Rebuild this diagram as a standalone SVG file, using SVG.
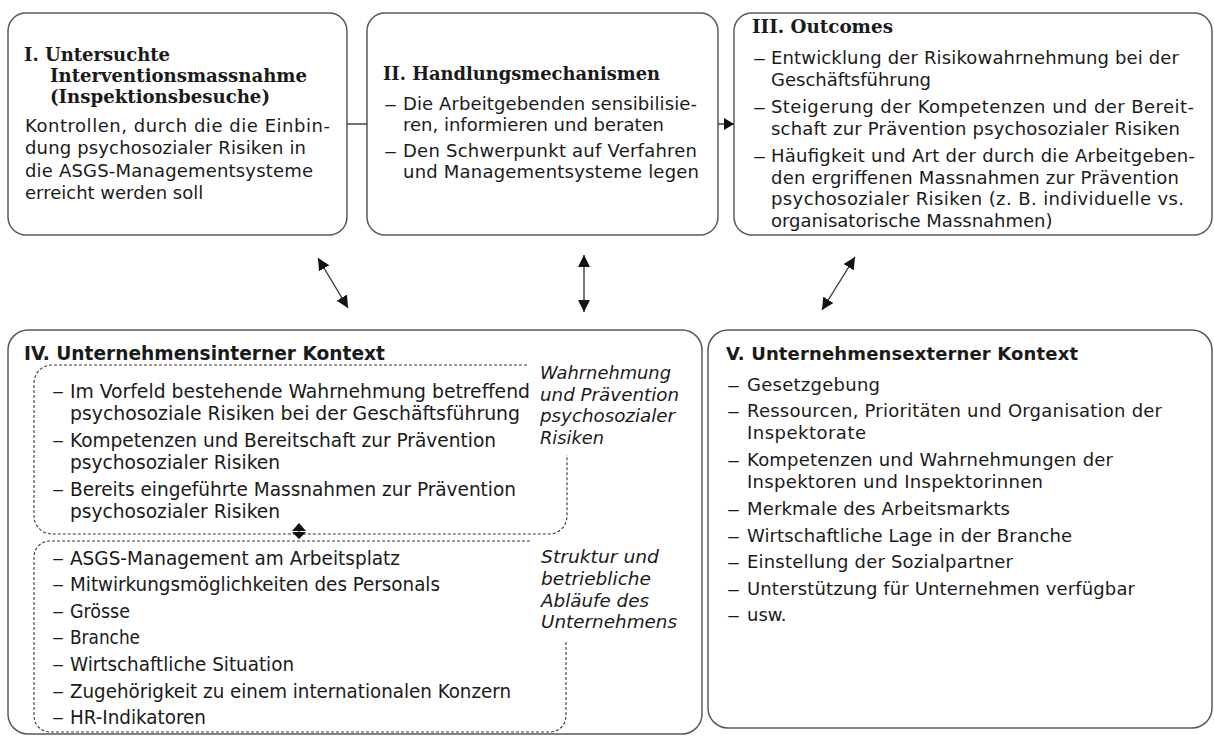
<svg xmlns="http://www.w3.org/2000/svg" width="1214" height="736" viewBox="0 0 1214 736">
<style>
.box{fill:#fff;stroke:#595959;stroke-width:1.5}
.dsh{fill:none;stroke:#3a3a3a;stroke-width:1.1;stroke-dasharray:3 2}
.ln{stroke:#3a3a3a;stroke-width:1.4;fill:none}
text{fill:#1a1a1a}
.t{font-family:"DejaVu Sans",Verdana,sans-serif;font-size:18px}
.h{font-family:"DejaVu Serif","Liberation Serif",serif;font-weight:bold;font-size:18px}
.hs{font-family:"DejaVu Sans",Verdana,sans-serif;font-weight:bold;font-size:18px}
.c{font-family:"DejaVu Sans Condensed","DejaVu Sans",sans-serif;font-stretch:condensed;font-size:20px}
.cb{font-family:"DejaVu Sans Condensed","DejaVu Sans",sans-serif;font-stretch:condensed;font-weight:bold;font-size:20px}
.ci{font-family:"DejaVu Sans Condensed","DejaVu Sans",sans-serif;font-stretch:condensed;font-style:italic;font-size:18px}
</style>
<defs>
<marker id="ah" viewBox="0 0 12 12" refX="12" refY="6" markerWidth="12" markerHeight="12" markerUnits="userSpaceOnUse" orient="auto-start-reverse">
<path d="M0,0 L12,6 L0,12 z" fill="#111"/>
</marker>
<marker id="ahs" viewBox="0 0 10 12" refX="10" refY="6" markerWidth="10" markerHeight="12" markerUnits="userSpaceOnUse" orient="auto">
<path d="M0,0 L10,6 L0,12 z" fill="#111"/>
</marker>
</defs>

<g id="node-I">
<rect class="box" x="8" y="13" width="339" height="222" rx="18"/>
<text class="h" x="24" y="61" textLength="146" lengthAdjust="spacingAndGlyphs">I. Untersuchte</text>
<text class="h" x="50" y="82" textLength="257" lengthAdjust="spacingAndGlyphs">Interventionsmassnahme</text>
<text class="h" x="50" y="103" textLength="220" lengthAdjust="spacingAndGlyphs">(Inspektionsbesuche)</text>
<text class="t" x="25" y="132" textLength="305" lengthAdjust="spacing">Kontrollen, durch die die Einbin-</text>
<text class="t" x="25" y="154" textLength="281" lengthAdjust="spacing">dung psychosozialer Risiken in</text>
<text class="t" x="25" y="177" textLength="288" lengthAdjust="spacing">die ASGS-Managementsysteme</text>
<text class="t" x="25" y="199">erreicht werden soll</text>
</g>

<g id="node-II">
<rect class="box" x="367" y="13" width="351" height="222" rx="18"/>
<text class="h" x="383" y="80" textLength="277" lengthAdjust="spacingAndGlyphs">II. Handlungsmechanismen</text>
<text class="t" x="384" y="110" textLength="13" lengthAdjust="spacingAndGlyphs">–</text>
<text class="t" x="403" y="110" textLength="294" lengthAdjust="spacing">Die Arbeitgebenden sensibilisie-</text>
<text class="t" x="403" y="131">ren, informieren und beraten</text>
<text class="t" x="384" y="157" textLength="13" lengthAdjust="spacingAndGlyphs">–</text>
<text class="t" x="403" y="157" textLength="294" lengthAdjust="spacing">Den Schwerpunkt auf Verfahren</text>
<text class="t" x="403" y="178" textLength="296" lengthAdjust="spacing">und Managementsysteme legen</text>
</g>

<g id="node-III">
<rect class="box" x="734" y="13" width="478" height="222" rx="18"/>
<text class="h" x="752" y="33" textLength="141" lengthAdjust="spacingAndGlyphs">III. Outcomes</text>
<text class="t" x="753" y="64" textLength="13" lengthAdjust="spacingAndGlyphs">–</text>
<text class="t" x="771" y="64" textLength="408" lengthAdjust="spacing">Entwicklung der Risikowahrnehmung bei der</text>
<text class="t" x="771" y="86">Geschäftsführung</text>
<text class="t" x="753" y="113" textLength="13" lengthAdjust="spacingAndGlyphs">–</text>
<text class="t" x="771" y="113" textLength="423" lengthAdjust="spacing">Steigerung der Kompetenzen und der Bereit-</text>
<text class="t" x="771" y="135" textLength="409" lengthAdjust="spacing">schaft zur Prävention psychosozialer Risiken</text>
<text class="t" x="753" y="162" textLength="13" lengthAdjust="spacingAndGlyphs">–</text>
<text class="t" x="771" y="162" textLength="424" lengthAdjust="spacing">Häufigkeit und Art der durch die Arbeitgeben-</text>
<text class="t" x="771" y="184" textLength="408" lengthAdjust="spacing">den ergriffenen Massnahmen zur Prävention</text>
<text class="t" x="771" y="205" textLength="413" lengthAdjust="spacing">psychosozialer Risiken (z. B. individuelle vs.</text>
<text class="t" x="771" y="227">organisatorische Massnahmen)</text>
</g>

<g id="node-IV">
<rect class="box" x="8" y="330" width="694" height="404" rx="20"/>
<text class="cb" x="24" y="360" textLength="361" lengthAdjust="spacingAndGlyphs">IV. Unternehmensinterner Kontext</text>
<path class="dsh" d="M527,365 H52 A18,18 0 0 0 34,383 V516 A18,18 0 0 0 52,534 H549 A18,18 0 0 0 567,516 V455"/>
<text class="ci" x="540" y="379" textLength="131" lengthAdjust="spacingAndGlyphs">Wahrnehmung</text>
<text class="ci" x="540" y="401" textLength="139" lengthAdjust="spacingAndGlyphs">und Prävention</text>
<text class="ci" x="540" y="422" textLength="135" lengthAdjust="spacingAndGlyphs">psychosozialer</text>
<text class="ci" x="540" y="444" textLength="64" lengthAdjust="spacingAndGlyphs">Risiken</text>
<text class="c" x="52" y="398" textLength="12" lengthAdjust="spacingAndGlyphs">–</text>
<text class="c" x="70" y="398" textLength="460" lengthAdjust="spacingAndGlyphs">Im Vorfeld bestehende Wahrnehmung betreffend</text>
<text class="c" x="70" y="420" textLength="450" lengthAdjust="spacingAndGlyphs">psychosoziale Risiken bei der Geschäftsführung</text>
<text class="c" x="52" y="447" textLength="12" lengthAdjust="spacingAndGlyphs">–</text>
<text class="c" x="70" y="447" textLength="426" lengthAdjust="spacingAndGlyphs">Kompetenzen und Bereitschaft zur Prävention</text>
<text class="c" x="70" y="469" textLength="210" lengthAdjust="spacingAndGlyphs">psychosozialer Risiken</text>
<text class="c" x="52" y="496" textLength="12" lengthAdjust="spacingAndGlyphs">–</text>
<text class="c" x="70" y="496" textLength="446" lengthAdjust="spacingAndGlyphs">Bereits eingeführte Massnahmen zur Prävention</text>
<text class="c" x="70" y="518" textLength="210" lengthAdjust="spacingAndGlyphs">psychosozialer Risiken</text>
<path class="dsh" d="M530,541 H50 A16,16 0 0 0 34,557 V716 A16,16 0 0 0 50,732 H550 A16,16 0 0 0 566,716 V642"/>
<text class="ci" x="541" y="563" textLength="118" lengthAdjust="spacingAndGlyphs">Struktur und</text>
<text class="ci" x="541" y="585" textLength="110" lengthAdjust="spacingAndGlyphs">betriebliche</text>
<text class="ci" x="541" y="607" textLength="108" lengthAdjust="spacingAndGlyphs">Abläufe des</text>
<text class="ci" x="541" y="628" textLength="136" lengthAdjust="spacingAndGlyphs">Unternehmens</text>
<text class="c" x="52" y="565" textLength="12" lengthAdjust="spacingAndGlyphs">–</text>
<text class="c" x="70" y="565" textLength="330" lengthAdjust="spacingAndGlyphs">ASGS-Management am Arbeitsplatz</text>
<text class="c" x="52" y="591" textLength="12" lengthAdjust="spacingAndGlyphs">–</text>
<text class="c" x="70" y="591" textLength="370" lengthAdjust="spacingAndGlyphs">Mitwirkungsmöglichkeiten des Personals</text>
<text class="c" x="52" y="618" textLength="12" lengthAdjust="spacingAndGlyphs">–</text>
<text class="c" x="70" y="618" textLength="60" lengthAdjust="spacingAndGlyphs">Grösse</text>
<text class="c" x="52" y="644" textLength="12" lengthAdjust="spacingAndGlyphs">–</text>
<text class="c" x="70" y="644" textLength="70" lengthAdjust="spacingAndGlyphs">Branche</text>
<text class="c" x="52" y="671" textLength="12" lengthAdjust="spacingAndGlyphs">–</text>
<text class="c" x="70" y="671" textLength="224" lengthAdjust="spacingAndGlyphs">Wirtschaftliche Situation</text>
<text class="c" x="52" y="698" textLength="12" lengthAdjust="spacingAndGlyphs">–</text>
<text class="c" x="70" y="698" textLength="441" lengthAdjust="spacingAndGlyphs">Zugehörigkeit zu einem internationalen Konzern</text>
<text class="c" x="52" y="724" textLength="12" lengthAdjust="spacingAndGlyphs">–</text>
<text class="c" x="70" y="724" textLength="136" lengthAdjust="spacingAndGlyphs">HR-Indikatoren</text>
</g>

<g id="node-V">
<rect class="box" x="708" y="330" width="504" height="398" rx="20"/>
<text class="hs" x="726" y="360" textLength="352" lengthAdjust="spacing">V. Unternehmensexterner Kontext</text>
<text class="t" x="727" y="391" textLength="13" lengthAdjust="spacingAndGlyphs">–</text>
<text class="t" x="747" y="391" textLength="133" lengthAdjust="spacing">Gesetzgebung</text>
<text class="t" x="727" y="417" textLength="13" lengthAdjust="spacingAndGlyphs">–</text>
<text class="t" x="747" y="417" textLength="415" lengthAdjust="spacing">Ressourcen, Prioritäten und Organisation der</text>
<text class="t" x="747" y="439" textLength="119" lengthAdjust="spacing">Inspektorate</text>
<text class="t" x="727" y="466" textLength="13" lengthAdjust="spacingAndGlyphs">–</text>
<text class="t" x="747" y="466" textLength="366" lengthAdjust="spacing">Kompetenzen und Wahrnehmungen der</text>
<text class="t" x="747" y="488" textLength="296" lengthAdjust="spacing">Inspektoren und Inspektorinnen</text>
<text class="t" x="727" y="515" textLength="13" lengthAdjust="spacingAndGlyphs">–</text>
<text class="t" x="747" y="515" textLength="263" lengthAdjust="spacing">Merkmale des Arbeitsmarkts</text>
<text class="t" x="727" y="542" textLength="13" lengthAdjust="spacingAndGlyphs">–</text>
<text class="t" x="747" y="542" textLength="325" lengthAdjust="spacing">Wirtschaftliche Lage in der Branche</text>
<text class="t" x="727" y="568" textLength="13" lengthAdjust="spacingAndGlyphs">–</text>
<text class="t" x="747" y="568" textLength="266" lengthAdjust="spacing">Einstellung der Sozialpartner</text>
<text class="t" x="727" y="595" textLength="13" lengthAdjust="spacingAndGlyphs">–</text>
<text class="t" x="747" y="595" textLength="388" lengthAdjust="spacing">Unterstützung für Unternehmen verfügbar</text>
<text class="t" x="727" y="621" textLength="13" lengthAdjust="spacingAndGlyphs">–</text>
<text class="t" x="747" y="621">usw.</text>
</g>

<g id="connectors">
<line class="ln" x1="347" y1="124" x2="367" y2="124"/>
<line class="ln" x1="718" y1="124" x2="734" y2="124" marker-end="url(#ahs)"/>
<line class="ln" x1="318" y1="258" x2="348" y2="308" marker-start="url(#ah)" marker-end="url(#ah)"/>
<line class="ln" x1="584" y1="255" x2="584" y2="312" marker-start="url(#ah)" marker-end="url(#ah)"/>
<line class="ln" x1="855" y1="257" x2="822" y2="310" marker-start="url(#ah)" marker-end="url(#ah)"/>
<line class="ln" x1="299" y1="525" x2="299" y2="538"/>
<path d="M299,523 L292,531 L306,531 z M292,532 L306,532 L299,539 z" fill="#111"/>
</g>
</svg>
